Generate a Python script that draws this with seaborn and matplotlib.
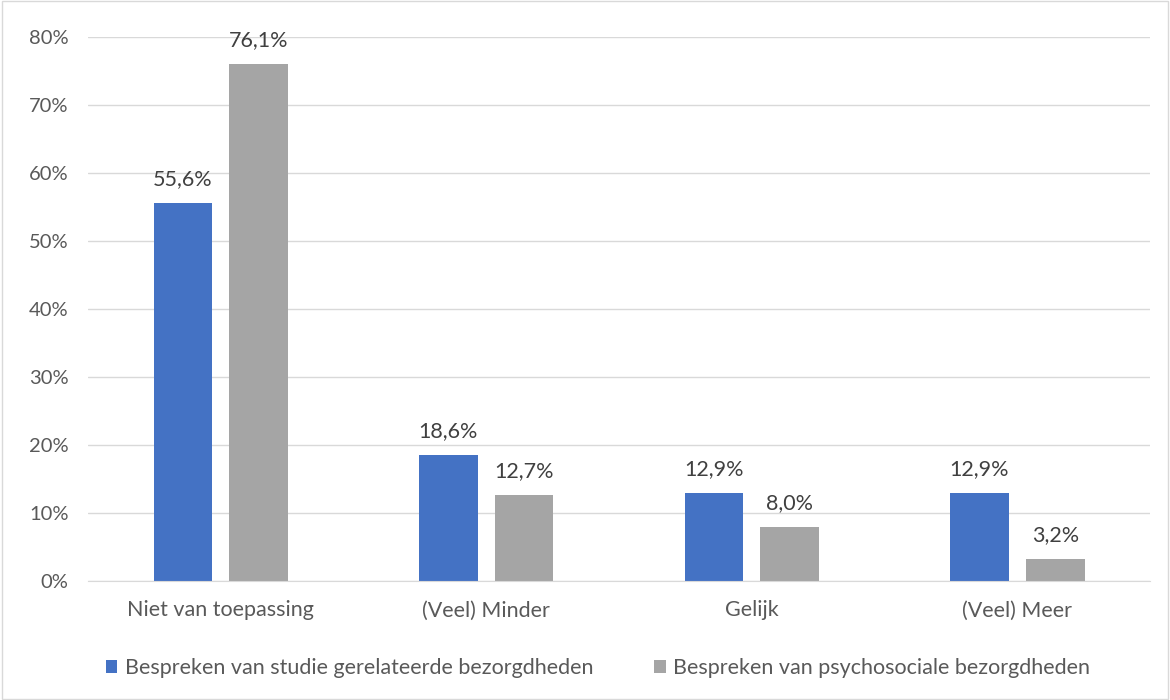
import pandas as pd
import seaborn as sns
import matplotlib.pyplot as plt
from matplotlib.patches import Rectangle

# data
categories = ['Niet van toepassing', '(Veel) Minder', 'Gelijk', '(Veel) Meer']
series_names = ['Bespreken van studie gerelateerde bezorgdheden',
                'Bespreken van psychosociale bezorgdheden']
studie = [55.6, 18.6, 12.9, 12.9]
psychosociaal = [76.1, 12.7, 8.0, 3.2]

df = pd.DataFrame({
    'categorie': categories * 2,
    'reeks': [series_names[0]] * 4 + [series_names[1]] * 4,
    'waarde': studie + psychosociaal,
})

sns.set_style('white')
plt.rcParams['font.family'] = ['Lato', 'DejaVu Sans']

fig = plt.figure(figsize=(11.7, 7), dpi=100)
ax = fig.add_axes([0.0752, 0.17, 0.9078, 0.777])

sns.barplot(data=df, x='categorie', y='waarde', hue='reeks',
            palette=['#4472C4', '#A5A5A5'], saturation=1, width=0.57, gap=0.225,
            linewidth=0, ax=ax, legend=True)

for cont in ax.containers:
    ax.bar_label(cont, labels=[f'{v:.1f}'.replace('.', ',') + '%' for v in cont.datavalues],
                 padding=10, fontsize=15.5, color='#404040')

ax.set_ylim(0, 80)
ax.set_xlim(-0.5, 3.5)
ax.set_yticks(range(0, 81, 10))
ax.set_yticklabels([f'{t}%' for t in range(0, 81, 10)])
ax.yaxis.grid(True, color='#D9D9D9', linewidth=1)
ax.set_axisbelow(True)
for s in ['top', 'right', 'left']:
    ax.spines[s].set_visible(False)
ax.spines['bottom'].set_color('#D9D9D9')
ax.tick_params(axis='y', labelsize=14.5, colors='#595959', length=0, pad=14)
ax.tick_params(axis='x', labelsize=15.5, colors='#595959', length=0, pad=14)
ax.set_xlabel('')
ax.set_ylabel('')

ax.legend(loc='center', bbox_to_anchor=(0.48, -0.16), ncol=2, frameon=False,
          fontsize=15.5, labelcolor='#595959', handlelength=0.55, handleheight=0.55,
          handletextpad=0.35, columnspacing=2.8)

fig.patches.append(Rectangle((0.002, 0.002), 0.996, 0.996, transform=fig.transFigure,
                             fill=False, edgecolor='#D9D9D9', linewidth=1))

plt.savefig('out.png', dpi=100)
